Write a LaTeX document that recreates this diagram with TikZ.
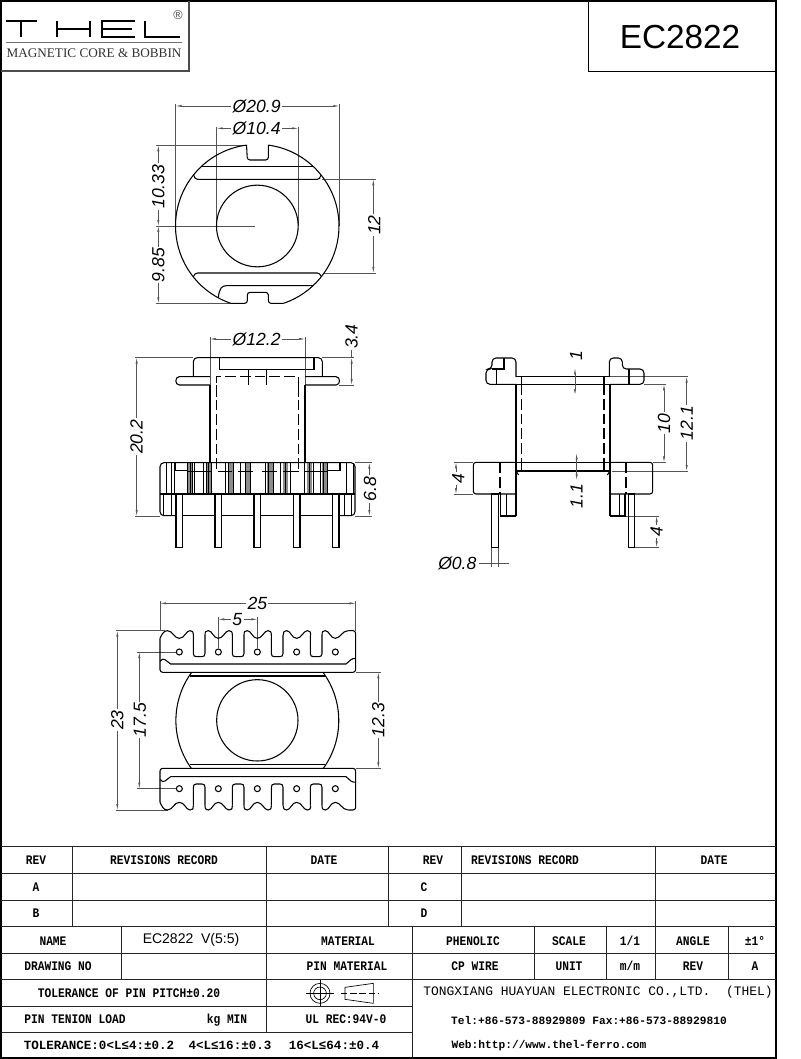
\documentclass[tikz,border=0pt]{standalone}
\usepackage{fontspec}
\usetikzlibrary{arrows.meta}
\setmainfont{Liberation Sans}
\newfontfamily\tablefont[FakeStretch=0.86]{Liberation Mono}
\newfontfamily\widefont{Liberation Mono}
\newfontfamily\logofont{Liberation Serif}
\definecolor{dimgrey}{HTML}{555555}
\tikzset{
  part/.style={black,line width=0.8pt},
  hidden/.style={part,dash pattern=on 8pt off 3pt},
  dimline/.style={dimgrey,line width=0.4pt,{Latex[length=4.5pt,width=1.6pt]}-{Latex[length=4.5pt,width=1.6pt]}},
  extline/.style={dimgrey,line width=0.4pt},
  dimtext/.style={font=\itshape\fontsize{13.2}{14}\selectfont,fill=white,inner sep=1pt},
  grid/.style={black!85,line width=0.6pt},
  cell/.style={font=\tablefont\bfseries\fontsize{9.8}{11}\selectfont,inner sep=0pt,text height=6.2pt,text depth=0pt},
  tolcell/.style={font=\widefont\bfseries\fontsize{9.4}{11}\selectfont,inner sep=0pt,text height=6.2pt,text depth=0pt},
}
\begin{document}
\begin{tikzpicture}[x=0.75pt,y=-0.75pt]
\useasboundingbox (0,0) rectangle (800,1059);
\fill[white] (0,0) rectangle (800,1059);

% sheet frame, logo and title
\draw [black,line width=1.5pt] (1,1) rectangle (776,1058);
\draw [black!70,line width=0.9pt] (1,71) -- (189,71) -- (189,1);
\draw [black,line width=0.6pt] (588,1) -- (588,71) -- (776,71);
\node [font=\fontsize{25}{28}\selectfont,inner sep=0pt] (title) at (680,37) {EC2822};
\draw [black,line width=0.8pt] (6,21) -- (37,21) (21,21) -- (21,37); % T
\draw [black,line width=0.8pt] (57,21) -- (57,37) (90,21) -- (90,37) (57,29) -- (90,29); % H
\draw [black,line width=0.8pt] (135,21) -- (102,21) -- (102,37) -- (135,37) (102,29) -- (132,29); % E
\draw [black,line width=0.8pt] (145,21) -- (145,37) -- (180,37); % L
\node [font=\fontsize{9.5}{10}\selectfont,black!70,inner sep=0pt] (regmark) at (178,15.5) {®};
\draw [black!55,line width=1.2pt] (6,42.7) -- (182,42.7);
\node [font=\logofont\fontsize{9.9}{10}\selectfont,black!80,inner sep=0pt] (brand) at (94,52.7) {MAGNETIC CORE \& BOBBIN};

% top view
\begin{scope}[shift={(130,90)},scale=1/3]
  \draw [extline] (137,42) -- (137,408) (628,42) -- (628,408);
  \draw [extline] (260,110) -- (260,408) (505,110) -- (505,408);
  \draw [extline] (78,166) -- (340,166) (78,408) -- (375,408) (78,640) -- (300,640);
  \draw [extline] (575,268) -- (738,268) (578,549) -- (738,549);
  \draw [part] (415.2,165.3) arc [start angle=-82.2,end angle=71.3,radius=245];
  \draw [part] (349.6,165.3) arc [start angle=262.5,end angle=108.7,radius=245];
  \draw [part,rounded corners=2pt] (415.2,165.3) -- (415,210) -- (352,210) -- (349.6,165.3);
  \draw [part,rounded corners=2pt] (460.7,640) -- (415,640) -- (415,607) -- (352,607) -- (352,640) -- (303.3,640);
  \draw [part] (382,408) circle [radius=122.5];
  \draw [part] (214,230) -- (550,230);
  \draw [part] (191,255) .. controls (193,264) and (197,268) .. (203,268) -- (562,268) .. controls (567,268) and (571,264) .. (573,255);
  \draw [part] (190,560) .. controls (193,553) and (197,549) .. (203,549) -- (562,549) .. controls (567,549) and (571,553) .. (574,560);
  \draw [part] (549,587) -- (290,587) .. controls (275,587) and (268,595) .. (265,623);
  \draw [dimline] (137,48) -- (628,48);
  \draw [dimline] (260,115) -- (505,115);
  \draw [dimline] (85,166) -- (85,408);
  \draw [dimline] (85,408) -- (85,640);
  \draw [dimline] (730,268) -- (730,549);
  \node [dimtext] (dimOuter) at (380,48) {Ø20.9};
  \node [dimtext] (dimBore) at (380,115) {Ø10.4};
  \node [dimtext,rotate=90] (dimUpper) at (85,290) {10.33};
  \node [dimtext,rotate=90] (dimLower) at (85,525) {9.85};
  \node [dimtext,rotate=90] (dimChord) at (733,405) {12};
\end{scope}

% front view
\begin{scope}[shift={(120,320)},scale=1/3]
  \draw [extline] (270,50) -- (270,195) (555,50) -- (555,195);
  \draw [extline] (607,113) -- (703,113) (658,195) -- (703,195);
  \draw [extline] (45,113) -- (220,113) (45,588) -- (120,588);
  \draw [extline] (705,428) -- (755,428) (705,588) -- (755,588);
  \draw [part,rounded corners=3pt] (220,170) -- (220,113) -- (607,113) -- (607,170);
  \draw [part] (298,113) -- (298,148) -- (582,148) -- (582,113);
  \draw [part] (270,170) -- (178,170) .. controls (164,170) and (164,195) .. (178,195) -- (270,195);
  \draw [part] (555,170) -- (648,170) .. controls (662,170) and (662,195) .. (648,195) -- (555,195);
  \foreach \x in {385,440} {
    \draw [part] (\x,148) -- (\x,195);
  }
  \draw [hidden] (290,232) -- (290,170) -- (535,170) -- (535,232);
  \draw [part] (270,195) -- (270,428) (555,195) -- (555,428);
  \draw [hidden] (290,195) -- (290,455) (535,195) -- (535,455);
  \draw [dimline] (270,57) -- (555,57);
  \draw [dimline] (695,113) -- (695,195);
  \draw [extline] (695,113) -- (695,90);
  \draw [dimline] (50,113) -- (50,588);
  \draw [dimline] (748,428) -- (748,588);
  \node [dimtext] (dimNeck) at (410,57) {Ø12.2};
  \node [dimtext,rotate=90] (dimFlange) at (695,50) {3.4};
  \node [dimtext,rotate=90] (dimHeight) at (50,350) {20.2};
  \node [dimtext,rotate=90] (dimBase) at (750,507) {6.8};
\end{scope}

% front view base with the pins
\begin{scope}[shift={(150,450)},scale=1/3]
  \foreach \x/\w in {112/16,168/15,235/15,285/15,350/20,400/15,470/15,515/15} {
    \fill [black!45] (\x,38) rectangle ++(\w,94);
  }
  \foreach \x in {50,65,72,112,120,128,133,160,168,176,183,225,235,250,272,285,300,345,355,370,392,407,420,462,477,490,510,520,532,590,610} {
    \draw [black,line width=0.5pt] (\x,38) -- (\x,132);
  }
  \foreach \x in {40,65,565,582,605} {
    \draw [black,line width=0.5pt] (\x,132) -- (\x,197);
  }
  \draw [part,rounded corners=3pt] (30,132) -- (30,38) -- (615,38) -- (615,132);
  \draw [part,rounded corners=3pt] (30,132) -- (30,197) -- (78,197);
  \draw [part,rounded corners=3pt] (615,132) -- (615,197) -- (568,197);
  \draw [part,rounded corners=3pt] (30,132) -- (615,132);
  \foreach \a/\b in {98/195,215/312,332/430,450/548} {
    \draw [part] (\a,197) -- (\b,197);
  }
  \draw [part] (77,38) -- (77,62) -- (112,62);
  \draw [part] (570,38) -- (570,62) -- (532,62);
  \foreach \a/\b in {112/183,205/245,265/310,335/380,398/448,465/530} {
    \draw [part] (\a,65) -- (\b,65);
  }
  \foreach \x in {88,205,322,440,557} {
    \draw [part,fill=white] (\x-10,132) rectangle (\x+10,292);
  }
\end{scope}

% side view
\begin{scope}[shift={(430,340)},scale=1/3]
  \draw [extline] (642,133) -- (708,133) (668,367) -- (708,367);
  \draw [extline] (540,110) -- (775,110) (545,393) -- (775,393);
  \draw [extline] (72,367) -- (130,367) (72,462) -- (130,462);
  \draw [extline] (585,528) -- (688,528) (613,622) -- (688,622);
  \draw [extline] (185,622) -- (185,680) (205,622) -- (205,680);
  \draw [extline] (148,670) -- (238,670);
  \draw [part,rounded corners=3pt] (258,133) -- (168,133) -- (168,87) -- (186,87) -- (186,54) -- (258,54) -- (258,110.4);
  \draw [part,rounded corners=3pt] (540,133) -- (642,133) -- (642,87) -- (577,87) -- (577,54) -- (538,54) -- (538,110.4);
  \draw [part] (186,87) -- (222,87) -- (222,54);
  \draw [part] (258,110) -- (538,110) (258,133) -- (540,133);
  \draw [part] (200,87) -- (200,133) (597,87) -- (597,133);
  \draw [part] (258,133) -- (258,528) (540,133) -- (540,528);
  \draw [part] (275,110) -- (275,133) (522,110) -- (522,133) (275,367) -- (275,393) (522,367) -- (522,393);
  \draw [hidden] (275,133) -- (275,367) (522,133) -- (522,367);
  \draw [part,rounded corners=2pt] (258,367) -- (130,367) -- (130,462) -- (258,462);
  \draw [part,rounded corners=2pt] (540,367) -- (668,367) -- (668,462) -- (540,462);
  \draw [part] (258,367) -- (540,367) (258,393) -- (540,393);
  \draw [part] (258,393) -- (266,405) (540,393) -- (532,405);
  \draw [part] (212,462) -- (212,528) -- (258,528) (230,462) -- (230,528);
  \draw [part] (585,462) -- (585,528) -- (540,528) (568,462) -- (568,528);
  \draw [hidden] (210,367) -- (210,462) (588,367) -- (588,462);
  \draw [part] (185,462) rectangle (205,622);
  \draw [part] (595,462) rectangle (613,622);
  \draw [dimline] (435,85) -- (435,165);
  \draw [dimline] (440,340) -- (440,420);
  \draw [dimline] (702,133) -- (702,367);
  \draw [dimline] (770,110) -- (770,393);
  \draw [dimline] (78,367) -- (78,462);
  \draw [dimline] (680,528) -- (680,622);
  \node [dimtext,rotate=90] (dimRib) at (438,48) {1};
  \node [dimtext,rotate=90] (dimPlate) at (440,468) {1.1};
  \node [dimtext,rotate=90] (dimWind) at (702,250) {10};
  \node [dimtext,rotate=90] (dimSpan) at (770,250) {12.1};
  \node [dimtext,rotate=90] (dimStep) at (85,415) {4};
  \node [dimtext,rotate=90] (dimPin) at (680,575) {4};
  \node [dimtext] (dimWire) at (82,670) {Ø0.8};
\end{scope}

% bottom view
\begin{scope}[shift={(100,590)},scale=1/3]
  \draw [extline] (180,33) -- (180,122) (767,33) -- (767,122);
  \draw [extline] (355,82) -- (355,175) (472,82) -- (472,175);
  \draw [extline] (47,122) -- (195,122) (47,660) -- (205,660);
  \draw [extline] (110,186) -- (228,186) (110,596) -- (228,596);
  \draw [extline] (767,247) -- (842,247) (767,535) -- (842,535);
  \foreach \yoff/\ydir in {0/1,782/-1} {
    \begin{scope}[shift={(0,\yoff)},yscale=\ydir]
      \draw [part,rounded corners=2pt] (180,145) -- (180,247) -- (767,247) -- (767,122) -- (745,122);
      \draw [part] (180,145) .. controls (185,135) and (190,122) .. (202,122)
        .. controls (218,122) and (222,145) .. (238,145)
        .. controls (254,145) and (258,122) .. (270,122)
        .. controls (277,122) and (280,125) .. (280,135);
      \foreach \px in {355,472,590} {
        \draw [part] (\px-40,135) .. controls (\px-40,125) and (\px-37,122) .. (\px-30,122)
          .. controls (\px-18,122) and (\px-15,145) .. (\px,145)
          .. controls (\px+15,145) and (\px+20,122) .. (\px+32,122)
          .. controls (\px+39,122) and (\px+42,125) .. (\px+42,135);
      }
      \draw [part] (666,135) .. controls (666,125) and (669,122) .. (676,122)
        .. controls (688,122) and (691,145) .. (706,145)
        .. controls (721,145) and (726,122) .. (745,122);
      \foreach \sx in {280,397,514,631} {
        \draw [part] (\sx,135) -- (\sx,190) .. controls (\sx,197) and (\sx+3,200) .. (\sx+9,200)
          -- (\sx+26,200) .. controls (\sx+32,200) and (\sx+35,197) .. (\sx+35,190) -- (\sx+35,135);
      }
      \foreach \px in {238,355,472,590,706} {
        \draw [part] (\px,186) circle [radius=9];
      }
      \draw [part] (180,214) .. controls (186,207) and (190,205) .. (195,209) -- (212,222) -- (738,222) -- (753,209) .. controls (758,205) and (762,205) .. (767,206);
    \end{scope}
  }
  \draw [part] (472,391) circle [radius=122];
  \draw [part] (275,247) arc [start angle=216.2,end angle=143.8,radius=245];
  \draw [part] (669,247) arc [start angle=-36.2,end angle=36.2,radius=245];
  \draw [part] (270,258) -- (675,258) (270,523) -- (675,523);
  \draw [dimline] (180,40) -- (767,40);
  \draw [dimline] (355,88) -- (472,88);
  \draw [dimline] (52,122) -- (52,660);
  \draw [dimline] (118,186) -- (118,596);
  \draw [dimline] (835,247) -- (835,535);
  \node [dimtext] (dimWidth) at (472,40) {25};
  \node [dimtext] (dimPitch) at (412,88) {5};
  \node [dimtext,rotate=90] (dimDepth) at (52,390) {23};
  \node [dimtext,rotate=90] (dimRow) at (120,390) {17.5};
  \node [dimtext,rotate=90] (dimWall) at (835,390) {12.3};
\end{scope}

% title block rules
\draw [grid] (1,846.7) -- (776,846.7);
\draw [grid] (1,873.3) -- (776,873.3);
\draw [grid] (1,900.3) -- (776,900.3);
\draw [grid] (1,926.7) -- (776,926.7);
\draw [grid] (1,953) -- (776,953);
\draw [grid] (1,979.3) -- (776,979.3);
\draw [grid] (1,1006) -- (412.7,1006);
\draw [grid] (1,1032.7) -- (412.7,1032.7);
\foreach \x in {72.3,266.7,388.3,461.7,655} {
  \draw [grid] (\x,846.7) -- (\x,926.7);
}
\foreach \x in {121.7,534.3,606.7,655,728.3} {
  \draw [grid] (\x,926.7) -- (\x,979.3);
}
\draw [grid] (266.7,926.7) -- (266.7,1032.7);
\draw [grid] (412.7,926.7) -- (412.7,1058);

% title block texts
\node [cell] (revLeft) at (36,860) {REV};
\node [cell] (recLeft) at (164,860) {REVISIONS RECORD};
\node [cell] (dateLeft) at (324,860) {DATE};
\node [cell] (revRight) at (433,860) {REV};
\node [cell] (recRight) at (525,860) {REVISIONS RECORD};
\node [cell] (dateRight) at (714,860) {DATE};
\node [cell] (revA) at (36,887) {A};
\node [cell] (revB) at (36,913) {B};
\node [cell] (revC) at (424,887) {C};
\node [cell] (revD) at (424,913) {D};
\node [cell] (nameKey) at (53,941) {NAME};
\node [font=\fontsize{10.5}{12}\selectfont,inner sep=0pt] (nameVal) at (191,940) {EC2822~~V(5:5)};
\node [cell] (matKey) at (348,941) {MATERIAL};
\node [cell] (matVal) at (473,941) {PHENOLIC};
\node [cell] (scaleKey) at (569,941) {SCALE};
\node [cell] (scaleVal) at (630,941) {1/1};
\node [cell] (angleKey) at (693,941) {ANGLE};
\node [cell] (angleVal) at (755,941) {±1°};
\node [cell] (drawKey) at (58,966.5) {DRAWING NO};
\node [cell] (pinKey) at (347,966.5) {PIN MATERIAL};
\node [cell] (pinVal) at (475,966.5) {CP WIRE};
\node [cell] (unitKey) at (569,966.5) {UNIT};
\node [cell] (unitVal) at (630,966.5) {m/m};
\node [cell] (revKey) at (693,966.5) {REV};
\node [cell] (revVal) at (755,966.5) {A};
\node [cell] (pitch) at (129,993) {TOLERANCE OF PIN PITCH±0.20};
\node [cell] (load) at (75,1019.5) {PIN TENION LOAD};
\node [cell] (loadUnit) at (227,1019.5) {kg MIN};
\node [cell] (rating) at (346,1019.5) {UL REC:94V-0};
\node [tolcell] (tolSmall) at (99,1045) {TOLERANCE:0<L≤4:±0.2};
\node [tolcell] (tolMid) at (230,1045) {4<L≤16:±0.3};
\node [tolcell] (tolBig) at (334,1045) {16<L≤64:±0.4};
\node [font=\widefont\fontsize{9.7}{11}\selectfont,inner sep=0pt] (company) at (598,992) {TONGXIANG HUAYUAN ELECTRONIC CO.,LTD.~~(THEL)};
\node [font=\widefont\bfseries\fontsize{8.4}{10}\selectfont,inner sep=0pt,text height=6.2pt,text depth=0pt] (phone) at (589,1020) {Tel:+86-573-88929809 Fax:+86-573-88929810};
\node [font=\widefont\bfseries\fontsize{8.4}{10}\selectfont,inner sep=0pt,text height=6.2pt,text depth=0pt] (web) at (549,1044) {Web:http://www.thel-ferro.com};

% projection symbols
\begin{scope}[shift={(0,840)},scale=1/3]
  \draw [black,line width=0.5pt] (960,460) circle [radius=30] circle [radius=19];
  \draw [black,line width=0.5pt] (917,460) -- (1003,460) (960,420) -- (960,497);
  \draw [black,line width=0.5pt] (1035,442) -- (1120,430) -- (1120,490) -- (1035,478) -- cycle;
  \draw [black,line width=0.5pt,dash pattern=on 5pt off 2pt] (1022,460) -- (1135,460);
\end{scope}
\end{tikzpicture}
\end{document}
